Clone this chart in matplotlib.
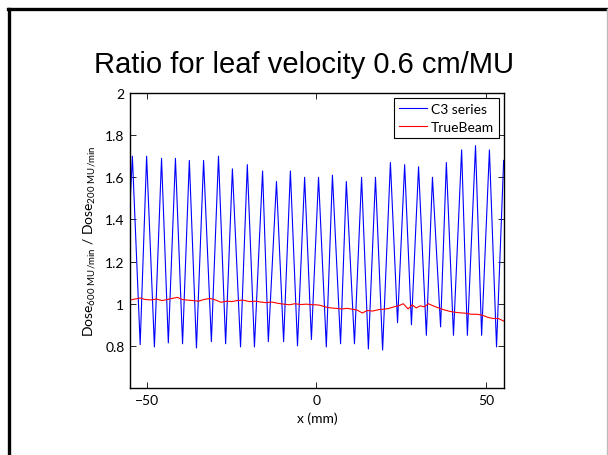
import matplotlib
matplotlib.use("Agg")
import matplotlib.pyplot as plt
from matplotlib.lines import Line2D

# C3 series: peaks and troughs (x in mm, ratio)
peak_x = [-54.3, -50.1, -45.7, -41.6, -37.5, -33.3, -28.9, -24.8, -20.4, -15.9, -11.8, -7.7, -3.5,
          0.6, 4.7, 8.8, 13.3, 17.4, 21.8, 26.0, 30.1, 34.2, 38.3, 42.8, 46.9, 51.0, 55.2]
peak_y = [1.70, 1.70, 1.69, 1.69, 1.68, 1.68, 1.70, 1.64, 1.66, 1.63, 1.58, 1.63, 1.60,
          1.60, 1.61, 1.58, 1.60, 1.60, 1.67, 1.66, 1.65, 1.60, 1.67, 1.73, 1.75, 1.73, 1.68]
trough_x = [-52.0, -47.8, -43.7, -39.5, -35.4, -31.0, -26.8, -22.4, -18.3, -14.2, -9.7, -5.6, -1.5,
            2.9, 7.1, 11.2, 15.3, 19.5, 23.9, 28.0, 32.4, 36.6, 40.4, 44.5, 48.7, 53.1]
trough_y = [0.806, 0.795, 0.814, 0.81, 0.79, 0.82, 0.81, 0.795, 0.795, 0.82, 0.82, 0.80, 0.83,
            0.795, 0.81, 0.81, 0.785, 0.78, 0.91, 0.90, 0.85, 0.89, 0.85, 0.85, 0.85, 0.795]
start_x, start_y = -55.2, 1.40

# TrueBeam
tb_x = [-55.0, -53.6, -52.0, -50.5, -48.9, -47.2, -45.6, -44.0, -42.6, -41.0, -39.6, -38.0,
        -36.4, -34.8, -33.2, -31.4, -29.8, -28.2, -26.5, -25.0, -23.4, -21.6, -19.8, -18.0,
        -16.5, -14.9, -13.2, -11.4, -9.7, -8.0, -6.3, -4.7, -3.0, -1.2, 0.0, 1.2, 2.6, 4.2,
        5.8, 7.4, 9.0, 10.6, 12.0, 13.5, 15.0, 16.5, 18.4, 20.0, 21.4, 22.8, 24.2, 25.6,
        27.0, 28.2, 29.4, 30.6, 31.8, 33.0, 34.4, 36.0, 37.4, 39.0, 40.6, 42.2, 44.0, 45.6,
        47.4, 49.0, 50.6, 52.0, 53.6, 55.3]
tb_y = [1.017, 1.022, 1.027, 1.020, 1.018, 1.022, 1.015, 1.020, 1.025, 1.030, 1.020, 1.017,
        1.015, 1.012, 1.020, 1.025, 1.018, 1.007, 1.012, 1.010, 1.015, 1.017, 1.010, 1.012,
        1.008, 1.005, 1.008, 1.002, 0.998, 0.995, 1.000, 0.996, 0.998, 0.995, 0.995, 0.992,
        0.985, 0.980, 0.978, 0.975, 0.978, 0.974, 0.970, 0.956, 0.968, 0.965, 0.972, 0.974,
        0.978, 0.985, 0.990, 1.000, 0.975, 0.995, 0.980, 0.990, 0.985, 1.000, 0.990, 0.980,
        0.972, 0.965, 0.960, 0.957, 0.955, 0.950, 0.950, 0.945, 0.935, 0.930, 0.930, 0.917]

c3_x = [start_x]
c3_y = [start_y]
for i in range(len(peak_x)):
    c3_x.append(peak_x[i])
    c3_y.append(peak_y[i])
    if i < len(trough_x):
        c3_x.append(trough_x[i])
        c3_y.append(trough_y[i])

W, H = 608, 456
fig = plt.figure(figsize=(W / 100, H / 100), dpi=100)

# slide frame
fig.add_artist(Line2D([8.5 / W, 8.5 / W], [-0.1, 1 - 9.5 / H], color='black', lw=2.4, transform=fig.transFigure))
fig.add_artist(Line2D([7.5 / W, 1.1], [1 - 9.5 / H, 1 - 9.5 / H], color='black', lw=2.4, transform=fig.transFigure))
fig.add_artist(Line2D([606.5 / W, 606.5 / W], [-0.1, 1 - 10 / H], color='#bbbbbb', lw=1, transform=fig.transFigure))

fig.text(304 / W, 1 - 65 / H, 'Ratio for leaf velocity 0.6 cm/MU', ha='center', va='center',
         fontsize=21, family='Liberation Sans')

ax = fig.add_axes([130 / W, 1 - 389 / H, 374 / W, 295 / H])
ax.plot(c3_x, c3_y, color='blue', lw=0.8, label='C3 series')
ax.plot(tb_x, tb_y, color='red', lw=0.8, label='TrueBeam')

ax.set_xlim(-55, 55.3)
ax.set_ylim(0.6, 2)
ax.set_xticks([-50, 0, 50])
ax.set_yticks([0.8, 1, 1.2, 1.4, 1.6, 1.8, 2])
ax.set_yticklabels(['0.8', '1', '1.2', '1.4', '1.6', '1.8', '2'])
ax.tick_params(direction='in', top=True, right=True, length=4, width=0.6, labelsize=10, pad=4)
for lab in ax.get_xticklabels() + ax.get_yticklabels():
    lab.set_family('Lato')
for s in ax.spines.values():
    s.set_linewidth(1.0)

ax.set_xlabel('x (mm)', family='Lato', fontsize=10, labelpad=4)
ax.set_ylabel(r'Dose$_{\mathregular{600\ MU/min}}$ / Dose$_{\mathregular{200\ MU/min}}$',
              family='Lato', fontsize=10, labelpad=5)

leg = ax.legend(loc='upper right', prop={'family': 'Lato', 'size': 10},
                fancybox=False, edgecolor='black', framealpha=1, borderaxespad=0.35,
                handlelength=2.0, borderpad=0.35, labelspacing=0.45, handletextpad=0.3)
leg.get_frame().set_linewidth(0.8)

fig.savefig('out.png', dpi=100)
